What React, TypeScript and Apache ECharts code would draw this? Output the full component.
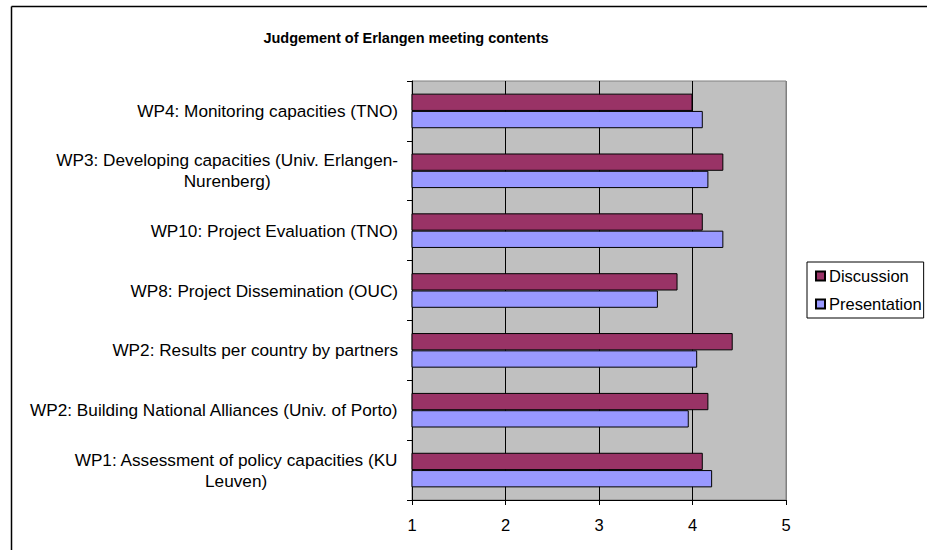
import React, { useEffect, useRef } from "react";
import * as echarts from "echarts";

const categories = [
  "WP1: Assessment of policy capacities (KU\nLeuven)",
  "WP2: Building National Alliances (Univ. of Porto)",
  "WP2: Results per country by partners",
  "WP8: Project Dissemination (OUC)",
  "WP10: Project Evaluation (TNO)",
  "WP3: Developing capacities (Univ. Erlangen-\nNurenberg)",
  "WP4: Monitoring capacities (TNO)",
];
const discussion = [4.11, 4.17, 4.43, 3.84, 4.11, 4.33, 4.0];
const presentation = [4.21, 3.96, 4.05, 3.63, 4.33, 4.17, 4.11];
const xTicks = [1, 2, 3, 4, 5];
const seriesNames = ["Discussion", "Presentation"];
const titleText = "Judgement of Erlangen meeting contents";

const FONT = "'Liberation Sans', Arial, sans-serif";

export default function App() {
  const ref = useRef<HTMLDivElement>(null);
  useEffect(() => {
    if (!ref.current) return;
    const chart = echarts.init(ref.current, undefined, { renderer: "svg" });
    chart.setOption({
      animation: false,
      backgroundColor: "#ffffff",
      textStyle: { fontFamily: FONT },
      title: {
        text: titleText,
        left: 401,
        textAlign: "center",
        top: 25,
        textStyle: { fontFamily: FONT, fontSize: 14.5, fontWeight: "bold", color: "#000" },
      },
      graphic: [
        {
          type: "line",
          shape: { x1: 11.5, y1: 6.5, x2: 940, y2: 6.5 },
          style: { stroke: "#000", lineWidth: 1.5 },
          silent: true,
          z: 100,
        },
        {
          type: "line",
          shape: { x1: 11.5, y1: 6.5, x2: 11.5, y2: 560 },
          style: { stroke: "#000", lineWidth: 1.5 },
          silent: true,
          z: 100,
        },
      ],
      legend: {
        orient: "vertical",
        left: 807,
        top: 262,
        data: seriesNames,
        icon: "rect",
        itemWidth: 9,
        itemHeight: 9,
        itemGap: 10,
        padding: [5, 2, 5, 8],
        borderColor: "#000",
        borderWidth: 1,
        textStyle: { fontFamily: FONT, fontSize: 16.5, color: "#000", padding: [0, 0, 0, -1], lineHeight: 18 },
      },
      grid: {
        left: 412,
        top: 81,
        right: 141,
        bottom: 50,
        show: true,
        backgroundColor: "#C0C0C0",
        borderColor: "#808080",
        borderWidth: 1,
      },
      xAxis: {
        type: "value",
        min: xTicks[0],
        max: xTicks[xTicks.length - 1],
        interval: 1,
        axisLine: { show: true, lineStyle: { color: "#000", width: 1 } },
        axisTick: { show: true, length: 5, inside: false, lineStyle: { color: "#000" } },
        axisLabel: { fontFamily: FONT, fontSize: 16.5, color: "#000", margin: 16 },
        splitLine: {
          show: true,
          lineStyle: { color: ["#000", "#000", "#000", "#000", "#808080"], width: 1 },
        },
      },
      yAxis: {
        type: "category",
        data: categories,
        axisLine: { show: true, lineStyle: { color: "#000", width: 1 } },
        axisTick: { show: true, length: 5, inside: false, interval: 0, lineStyle: { color: "#000" } },
        axisLabel: {
          interval: 0,
          margin: 14,
          color: "#000",
          fontFamily: FONT,
          fontSize: 17.2,
          formatter: (v: string) =>
            v
              .split("\n")
              .map((l) => "{a|" + l + "}")
              .join("\n"),
          rich: {
            a: { fontFamily: FONT, fontSize: 17.2, color: "#000", align: "center", lineHeight: 21 },
          },
        },
        splitLine: { show: false },
      },
      series: [
        {
          name: seriesNames[0],
          type: "bar",
          data: discussion,
          barWidth: 17.3,
          barGap: "0%",
          itemStyle: { color: "#993366", borderColor: "#000", borderWidth: 1 },
        },
        {
          name: seriesNames[1],
          type: "bar",
          data: presentation,
          barWidth: 17.3,
          barGap: "0%",
          itemStyle: { color: "#9999FF", borderColor: "#000", borderWidth: 1 },
        },
      ],
    });
    return () => chart.dispose();
  }, []);
  return (
    <div
      ref={ref}
      style={{ position: "fixed", left: 0, top: 0, width: 927, height: 550 }}
    />
  );
}
